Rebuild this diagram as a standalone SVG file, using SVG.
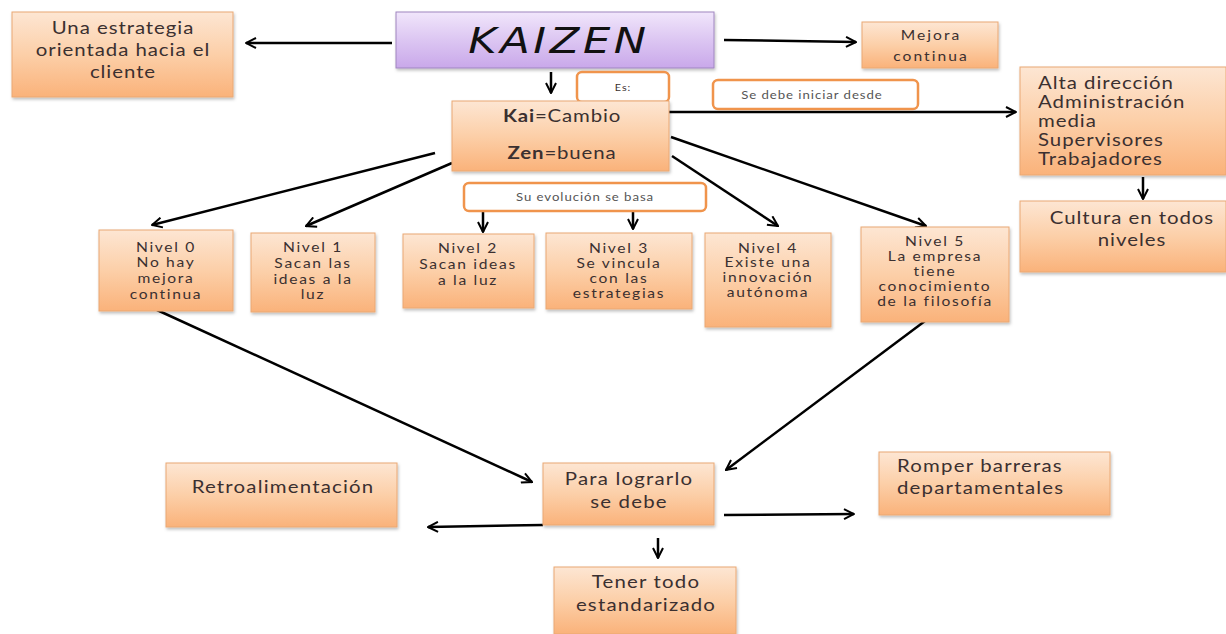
<svg xmlns="http://www.w3.org/2000/svg" width="1226" height="634" viewBox="0 0 1226 634">
<defs>
<linearGradient id="og" x1="0" y1="0" x2="0" y2="1">
<stop offset="0" stop-color="#fde6d3"/>
<stop offset="0.5" stop-color="#fccfa8"/>
<stop offset="1" stop-color="#fab27a"/>
</linearGradient>
<linearGradient id="pg" x1="0" y1="0" x2="0" y2="1">
<stop offset="0" stop-color="#f1e6fb"/>
<stop offset="0.5" stop-color="#dcc6f2"/>
<stop offset="1" stop-color="#c9a8ea"/>
</linearGradient>
<marker id="ah" viewBox="0 0 12 12" refX="11" refY="6" markerWidth="12" markerHeight="12" markerUnits="userSpaceOnUse" orient="auto">
<path d="M1,1 L11,6 L1,11" fill="none" stroke="#000" stroke-width="2"/>
</marker>
<filter id="sh" x="-5%" y="-5%" width="112%" height="120%">
<feDropShadow dx="1" dy="2" stdDeviation="1.5" flood-color="#000" flood-opacity="0.25"/>
</filter>
</defs>
<style>
.box{fill:url(#og);stroke:#eaa874;stroke-width:1;filter:url(#sh)}
.pbox{fill:url(#pg);stroke:#9f86c0;stroke-width:1;filter:url(#sh)}
.wbox{fill:#fff;stroke:#f0944c;stroke-width:2.5}
.t{font-family:Lato,"Open Sans",sans-serif;fill:#3b3030;transform-box:fill-box;transform-origin:center;transform:scaleX(1.2)}
.c{text-anchor:middle}
.l{transform-origin:left center}
.s12{font-size:13px;letter-spacing:1.4px}
.s15{font-size:17px;letter-spacing:1px}
.s16{font-size:17px;letter-spacing:0.8px}
.s10{font-size:11px;letter-spacing:0.8px;fill:#555}
.kz{font-family:"DejaVu Sans",sans-serif;font-style:italic;font-size:36px;letter-spacing:3px;fill:#111}
.ln{stroke:#000;stroke-width:2.5;fill:none;marker-end:url(#ah)}
</style>
<rect width="1226" height="634" fill="#fff"/>

<g id="connectors">
<line class="ln" x1="392" y1="43" x2="246" y2="43"/>
<line class="ln" x1="724" y1="40" x2="856" y2="42"/>
<line class="ln" x1="551" y1="72" x2="551" y2="93"/>
<line class="ln" x1="669" y1="112" x2="1016" y2="112"/>
<line class="ln" x1="435" y1="153" x2="152" y2="225"/>
<line class="ln" x1="452" y1="163" x2="306" y2="226"/>
<line class="ln" x1="483" y1="211" x2="483" y2="232"/>
<line class="ln" x1="633" y1="211" x2="633" y2="229"/>
<line class="ln" x1="672" y1="156" x2="778" y2="226"/>
<line class="ln" x1="671" y1="137" x2="926" y2="226"/>
<line class="ln" x1="1143" y1="177" x2="1143" y2="199"/>
<line class="ln" x1="157" y1="310" x2="532" y2="482"/>
<line class="ln" x1="925" y1="321" x2="726" y2="470"/>
<line class="ln" x1="543" y1="525" x2="428" y2="527"/>
<line class="ln" x1="724" y1="515" x2="854" y2="514"/>
<line class="ln" x1="658" y1="538" x2="658" y2="558"/>
</g>

<g id="n-estrategia">
<rect class="box" x="12" y="12" width="221" height="85"/>
<text class="t c s16" x="123" y="34">Una estrategia</text>
<text class="t c s16" x="123" y="56">orientada hacia el</text>
<text class="t c s16" x="123" y="78">cliente</text>
</g>

<g id="n-kaizen">
<rect class="pbox" x="396" y="12" width="318" height="56"/>
<text class="t c kz" x="559" y="53">KAIZEN</text>
</g>

<g id="n-mejora">
<rect class="box" x="862" y="22" width="136" height="46"/>
<text class="t c" font-size="13" letter-spacing="1.7" x="931" y="40">Mejora</text>
<text class="t c" font-size="13" letter-spacing="1.7" x="931" y="61">continua</text>
</g>

<g id="n-es">
<rect class="wbox" x="577" y="72" width="92" height="30" rx="5"/>
<text class="t c" font-size="9" letter-spacing="0.8" x="623" y="91" fill="#555">Es:</text>
</g>

<g id="n-sedebe">
<rect class="wbox" x="713" y="80" width="205" height="29" rx="5"/>
<text class="t c s10" x="812" y="99">Se debe iniciar desde</text>
</g>

<g id="n-kai">
<rect class="box" x="452" y="101" width="217" height="70"/>
<text class="t c" font-size="17" letter-spacing="0.7" x="562" y="122"><tspan font-weight="bold">Kai</tspan>=Cambio</text>
<text class="t c" font-size="17" letter-spacing="0.7" x="562" y="159"><tspan font-weight="bold">Zen</tspan>=buena</text>
</g>

<g id="n-alta">
<rect class="box" x="1020" y="67" width="206" height="108"/>
<text class="t l s16" x="1038" y="89">Alta dirección</text>
<text class="t l s16" x="1038" y="108">Administración</text>
<text class="t l s16" x="1038" y="127">media</text>
<text class="t l s16" x="1038" y="146">Supervisores</text>
<text class="t l s16" x="1038" y="165">Trabajadores</text>
</g>

<g id="n-cultura">
<rect class="box" x="1020" y="201" width="206" height="71"/>
<text class="t c s16" x="1132" y="224">Cultura  en todos</text>
<text class="t c s16" x="1132" y="246">niveles</text>
</g>

<g id="n-evolucion">
<rect class="wbox" x="464" y="183" width="242" height="28" rx="5"/>
<text class="t c s10" x="585" y="201">Su evolución se basa</text>
</g>

<g id="n-nivel0">
<rect class="box" x="99" y="230" width="134" height="81"/>
<text class="t c s12" x="166" y="252">Nivel 0</text>
<text class="t c s12" x="166" y="267">No hay</text>
<text class="t c s12" x="166" y="283">mejora</text>
<text class="t c s12" x="166" y="299">continua</text>
</g>

<g id="n-nivel1">
<rect class="box" x="251" y="233" width="124" height="79"/>
<text class="t c s12" x="313" y="252">Nivel 1</text>
<text class="t c s12" x="313" y="268">Sacan las</text>
<text class="t c s12" x="313" y="284">ideas a la</text>
<text class="t c s12" x="313" y="299">luz</text>
</g>

<g id="n-nivel2">
<rect class="box" x="403" y="234" width="131" height="74"/>
<text class="t c s12" x="468" y="253">Nivel 2</text>
<text class="t c s12" x="468" y="269">Sacan ideas</text>
<text class="t c s12" x="468" y="285">a la luz</text>
</g>

<g id="n-nivel3">
<rect class="box" x="546" y="233" width="146" height="76"/>
<text class="t c s12" x="619" y="253">Nivel 3</text>
<text class="t c s12" x="619" y="268">Se vincula</text>
<text class="t c s12" x="619" y="283">con las</text>
<text class="t c s12" x="619" y="298">estrategias</text>
</g>

<g id="n-nivel4">
<rect class="box" x="705" y="233" width="126" height="94"/>
<text class="t c s12" x="768" y="253">Nivel 4</text>
<text class="t c s12" x="768" y="267">Existe una</text>
<text class="t c s12" x="768" y="282">innovación</text>
<text class="t c s12" x="768" y="297">autónoma</text>
</g>

<g id="n-nivel5">
<rect class="box" x="861" y="227" width="148" height="95"/>
<text class="t c s12" x="935" y="246">Nivel 5</text>
<text class="t c s12" x="935" y="261">La empresa</text>
<text class="t c s12" x="935" y="276">tiene</text>
<text class="t c s12" x="935" y="291">conocimiento</text>
<text class="t c s12" x="935" y="306">de la filosofía</text>
</g>

<g id="n-retro">
<rect class="box" x="166" y="463" width="231" height="64"/>
<text class="t c s15" x="283" y="493">Retroalimentación</text>
</g>

<g id="n-para">
<rect class="box" x="543" y="463" width="171" height="62"/>
<text class="t c s15" x="629" y="485">Para lograrlo</text>
<text class="t c s15" x="629" y="508">se debe</text>
</g>

<g id="n-romper">
<rect class="box" x="879" y="452" width="231" height="63"/>
<text class="t l s15" x="897" y="472">Romper barreras</text>
<text class="t l s15" x="897" y="494">departamentales</text>
</g>

<g id="n-tener">
<rect class="box" x="554" y="567" width="182" height="67"/>
<text class="t c s15" x="646" y="588">Tener todo</text>
<text class="t c s15" x="646" y="611">estandarizado</text>
</g>
</svg>
